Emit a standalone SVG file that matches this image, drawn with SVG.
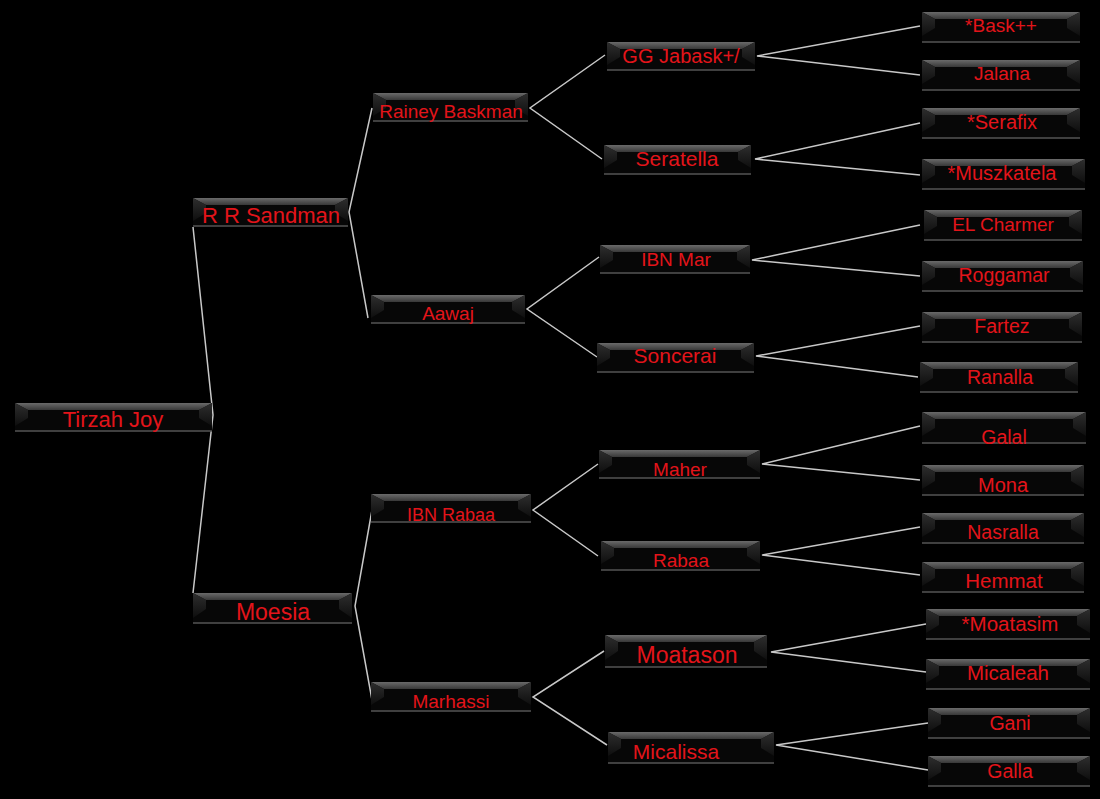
<svg xmlns="http://www.w3.org/2000/svg" width="1100" height="799" viewBox="0 0 1100 799">
<defs>
<linearGradient id="gt" x1="0" y1="0" x2="0" y2="1"><stop offset="0" stop-color="#6a6a6a"/><stop offset="1" stop-color="#383838"/></linearGradient>
<linearGradient id="gs" x1="0" y1="0" x2="0" y2="1"><stop offset="0" stop-color="#2e2e2e"/><stop offset="1" stop-color="#0e0e0e"/></linearGradient>
<style>
.body{fill:#070707}
.top{fill:url(#gt)}
.side{fill:url(#gs)}
.base{stroke:#555;stroke-width:1.5}
.lbl{font-family:"Liberation Sans",Arial,sans-serif;fill:#e3141a;text-anchor:middle}
.con{fill:none;stroke:#c8c8c8;stroke-width:1.5}
</style>
</defs>
<rect width="1100" height="799" fill="#000"/>
<g id="connectors">
<path class="con" d="M193,227 L213,415 L193,593"/>
<path class="con" d="M372,108 L349,212 L368,318"/>
<path class="con" d="M372,510 L355,606 L372,700"/>
<path class="con" d="M605,55 L530,108 L602,159"/>
<path class="con" d="M599,257 L527,309 L597,357"/>
<path class="con" d="M598,464 L533,510 L598,556"/>
<path class="con" d="M604,651 L533,697 L607,745"/>
<path class="con" d="M920,26 L757,56 L920,75"/>
<path class="con" d="M920,123 L755,159 L920,175"/>
<path class="con" d="M920,225 L752,260 L920,276"/>
<path class="con" d="M920,326 L756,356 L918,377"/>
<path class="con" d="M920,426 L762,464 L920,480"/>
<path class="con" d="M920,527 L762,555 L920,575"/>
<path class="con" d="M926,624 L771,652 L926,672"/>
<path class="con" d="M928,723 L776,745 L928,770"/>
</g>
<g id="n-tirzah"><rect class="body" x="15" y="403" width="197" height="28"/><polygon class="top" points="15,403 212,403 199,410 28,410"/><polygon class="side" points="15,403 28,410 28,418 15,426"/><polygon class="side" points="212,403 199,410 199,418 212,426"/><line class="base" x1="15" y1="431" x2="212" y2="431"/><text class="lbl" x="113" y="427" font-size="22">Tirzah Joy</text></g>
<g id="n-rrsandman"><rect class="body" x="193" y="198" width="155" height="28"/><polygon class="top" points="193,198 348,198 335,205 206,205"/><polygon class="side" points="193,198 206,205 206,213 193,221"/><polygon class="side" points="348,198 335,205 335,213 348,221"/><line class="base" x1="193" y1="226" x2="348" y2="226"/><text class="lbl" x="271" y="223" font-size="22">R R Sandman</text></g>
<g id="n-moesia"><rect class="body" x="193" y="593" width="159" height="30"/><polygon class="top" points="193,593 352,593 339,600 206,600"/><polygon class="side" points="193,593 206,600 206,609 193,618"/><polygon class="side" points="352,593 339,600 339,609 352,618"/><line class="base" x1="193" y1="623" x2="352" y2="623"/><text class="lbl" x="273" y="620" font-size="23">Moesia</text></g>
<g id="n-rainey"><rect class="body" x="373" y="93" width="155" height="28"/><polygon class="top" points="373,93 528,93 515,100 386,100"/><polygon class="side" points="373,93 386,100 386,108 373,116"/><polygon class="side" points="528,93 515,100 515,108 528,116"/><line class="base" x1="373" y1="121" x2="528" y2="121"/><text class="lbl" x="451" y="118" font-size="19">Rainey Baskman</text></g>
<g id="n-aawaj"><rect class="body" x="371" y="295" width="154" height="28"/><polygon class="top" points="371,295 525,295 512,302 384,302"/><polygon class="side" points="371,295 384,302 384,310 371,318"/><polygon class="side" points="525,295 512,302 512,310 525,318"/><line class="base" x1="371" y1="323" x2="525" y2="323"/><text class="lbl" x="448" y="320" font-size="19">Aawaj</text></g>
<g id="n-ibnrabaa"><rect class="body" x="371" y="494" width="160" height="28"/><polygon class="top" points="371,494 531,494 518,501 384,501"/><polygon class="side" points="371,494 384,501 384,509 371,517"/><polygon class="side" points="531,494 518,501 518,509 531,517"/><line class="base" x1="371" y1="522" x2="531" y2="522"/><text class="lbl" x="451" y="521" font-size="18">IBN Rabaa</text></g>
<g id="n-marhassi"><rect class="body" x="371" y="682" width="160" height="29"/><polygon class="top" points="371,682 531,682 518,689 384,689"/><polygon class="side" points="371,682 384,689 384,697 371,705"/><polygon class="side" points="531,682 518,689 518,697 531,705"/><line class="base" x1="371" y1="711" x2="531" y2="711"/><text class="lbl" x="451" y="708" font-size="19">Marhassi</text></g>
<g id="n-ggjabask"><rect class="body" x="607" y="42" width="148" height="28"/><polygon class="top" points="607,42 755,42 742,49 620,49"/><polygon class="side" points="607,42 620,49 620,57 607,65"/><polygon class="side" points="755,42 742,49 742,57 755,65"/><line class="base" x1="607" y1="70" x2="755" y2="70"/><text class="lbl" x="681" y="63" font-size="20">GG Jabask+/</text></g>
<g id="n-seratella"><rect class="body" x="604" y="145" width="147" height="29"/><polygon class="top" points="604,145 751,145 738,152 617,152"/><polygon class="side" points="604,145 617,152 617,160 604,168"/><polygon class="side" points="751,145 738,152 738,160 751,168"/><line class="base" x1="604" y1="174" x2="751" y2="174"/><text class="lbl" x="677" y="166" font-size="21">Seratella</text></g>
<g id="n-ibnmar"><rect class="body" x="600" y="245" width="150" height="28"/><polygon class="top" points="600,245 750,245 737,252 613,252"/><polygon class="side" points="600,245 613,252 613,260 600,268"/><polygon class="side" points="750,245 737,252 737,260 750,268"/><line class="base" x1="600" y1="273" x2="750" y2="273"/><text class="lbl" x="676" y="266" font-size="19">IBN Mar</text></g>
<g id="n-soncerai"><rect class="body" x="597" y="343" width="157" height="29"/><polygon class="top" points="597,343 754,343 741,350 610,350"/><polygon class="side" points="597,343 610,350 610,358 597,366"/><polygon class="side" points="754,343 741,350 741,358 754,366"/><line class="base" x1="597" y1="372" x2="754" y2="372"/><text class="lbl" x="675" y="363" font-size="21">Soncerai</text></g>
<g id="n-maher"><rect class="body" x="599" y="450" width="161" height="28"/><polygon class="top" points="599,450 760,450 747,457 612,457"/><polygon class="side" points="599,450 612,457 612,465 599,473"/><polygon class="side" points="760,450 747,457 747,465 760,473"/><line class="base" x1="599" y1="478" x2="760" y2="478"/><text class="lbl" x="680" y="476" font-size="19">Maher</text></g>
<g id="n-rabaa"><rect class="body" x="601" y="541" width="159" height="29"/><polygon class="top" points="601,541 760,541 747,548 614,548"/><polygon class="side" points="601,541 614,548 614,556 601,564"/><polygon class="side" points="760,541 747,548 747,556 760,564"/><line class="base" x1="601" y1="570" x2="760" y2="570"/><text class="lbl" x="681" y="567" font-size="19">Rabaa</text></g>
<g id="n-moatason"><rect class="body" x="605" y="635" width="162" height="32"/><polygon class="top" points="605,635 767,635 754,642 618,642"/><polygon class="side" points="605,635 618,642 618,651 605,660"/><polygon class="side" points="767,635 754,642 754,651 767,660"/><line class="base" x1="605" y1="667" x2="767" y2="667"/><text class="lbl" x="687" y="663" font-size="23">Moatason</text></g>
<g id="n-micalissa"><rect class="body" x="608" y="732" width="166" height="31"/><polygon class="top" points="608,732 774,732 761,739 621,739"/><polygon class="side" points="608,732 621,739 621,748 608,756"/><polygon class="side" points="774,732 761,739 761,748 774,756"/><line class="base" x1="608" y1="763" x2="774" y2="763"/><text class="lbl" x="676" y="759" font-size="21">Micalissa</text></g>
<g id="n-bask"><rect class="body" x="922" y="12" width="158" height="30"/><polygon class="top" points="922,12 1080,12 1067,19 935,19"/><polygon class="side" points="922,12 935,19 935,28 922,36"/><polygon class="side" points="1080,12 1067,19 1067,28 1080,36"/><line class="base" x1="922" y1="42" x2="1080" y2="42"/><text class="lbl" x="1001" y="32" font-size="19">*Bask++</text></g>
<g id="n-jalana"><rect class="body" x="922" y="60" width="158" height="30"/><polygon class="top" points="922,60 1080,60 1067,67 935,67"/><polygon class="side" points="922,60 935,67 935,76 922,84"/><polygon class="side" points="1080,60 1067,67 1067,76 1080,84"/><line class="base" x1="922" y1="90" x2="1080" y2="90"/><text class="lbl" x="1002" y="80" font-size="19">Jalana</text></g>
<g id="n-serafix"><rect class="body" x="922" y="108" width="158" height="30"/><polygon class="top" points="922,108 1080,108 1067,115 935,115"/><polygon class="side" points="922,108 935,115 935,124 922,132"/><polygon class="side" points="1080,108 1067,115 1067,124 1080,132"/><line class="base" x1="922" y1="138" x2="1080" y2="138"/><text class="lbl" x="1002" y="129" font-size="20">*Serafix</text></g>
<g id="n-muszkatela"><rect class="body" x="922" y="159" width="163" height="30"/><polygon class="top" points="922,159 1085,159 1072,166 935,166"/><polygon class="side" points="922,159 935,166 935,175 922,183"/><polygon class="side" points="1085,159 1072,166 1072,175 1085,183"/><line class="base" x1="922" y1="189" x2="1085" y2="189"/><text class="lbl" x="1002" y="180" font-size="20">*Muszkatela</text></g>
<g id="n-elcharmer"><rect class="body" x="924" y="210" width="158" height="30"/><polygon class="top" points="924,210 1082,210 1069,217 937,217"/><polygon class="side" points="924,210 937,217 937,226 924,234"/><polygon class="side" points="1082,210 1069,217 1069,226 1082,234"/><line class="base" x1="924" y1="240" x2="1082" y2="240"/><text class="lbl" x="1003" y="231" font-size="19">EL Charmer</text></g>
<g id="n-roggamar"><rect class="body" x="922" y="261" width="161" height="30"/><polygon class="top" points="922,261 1083,261 1070,268 935,268"/><polygon class="side" points="922,261 935,268 935,277 922,285"/><polygon class="side" points="1083,261 1070,268 1070,277 1083,285"/><line class="base" x1="922" y1="291" x2="1083" y2="291"/><text class="lbl" x="1004" y="282" font-size="19.5">Roggamar</text></g>
<g id="n-fartez"><rect class="body" x="922" y="312" width="160" height="30"/><polygon class="top" points="922,312 1082,312 1069,319 935,319"/><polygon class="side" points="922,312 935,319 935,328 922,336"/><polygon class="side" points="1082,312 1069,319 1069,328 1082,336"/><line class="base" x1="922" y1="342" x2="1082" y2="342"/><text class="lbl" x="1002" y="333" font-size="19.5">Fartez</text></g>
<g id="n-ranalla"><rect class="body" x="920" y="362" width="158" height="30"/><polygon class="top" points="920,362 1078,362 1065,369 933,369"/><polygon class="side" points="920,362 933,369 933,378 920,386"/><polygon class="side" points="1078,362 1065,369 1065,378 1078,386"/><line class="base" x1="920" y1="392" x2="1078" y2="392"/><text class="lbl" x="1000" y="384" font-size="19.5">Ranalla</text></g>
<g id="n-galal"><rect class="body" x="922" y="412" width="164" height="31"/><polygon class="top" points="922,412 1086,412 1073,419 935,419"/><polygon class="side" points="922,412 935,419 935,428 922,436"/><polygon class="side" points="1086,412 1073,419 1073,428 1086,436"/><line class="base" x1="922" y1="443" x2="1086" y2="443"/><text class="lbl" x="1004" y="444" font-size="19.5">Galal</text></g>
<g id="n-mona"><rect class="body" x="922" y="465" width="162" height="30"/><polygon class="top" points="922,465 1084,465 1071,472 935,472"/><polygon class="side" points="922,465 935,472 935,481 922,489"/><polygon class="side" points="1084,465 1071,472 1071,481 1084,489"/><line class="base" x1="922" y1="495" x2="1084" y2="495"/><text class="lbl" x="1003" y="492" font-size="20">Mona</text></g>
<g id="n-nasralla"><rect class="body" x="922" y="513" width="162" height="30"/><polygon class="top" points="922,513 1084,513 1071,520 935,520"/><polygon class="side" points="922,513 935,520 935,529 922,537"/><polygon class="side" points="1084,513 1071,520 1071,529 1084,537"/><line class="base" x1="922" y1="543" x2="1084" y2="543"/><text class="lbl" x="1003" y="539" font-size="19.5">Nasralla</text></g>
<g id="n-hemmat"><rect class="body" x="922" y="562" width="162" height="30"/><polygon class="top" points="922,562 1084,562 1071,569 935,569"/><polygon class="side" points="922,562 935,569 935,578 922,586"/><polygon class="side" points="1084,562 1071,569 1071,578 1084,586"/><line class="base" x1="922" y1="592" x2="1084" y2="592"/><text class="lbl" x="1004" y="588" font-size="20.5">Hemmat</text></g>
<g id="n-moatasim"><rect class="body" x="926" y="609" width="164" height="30"/><polygon class="top" points="926,609 1090,609 1077,616 939,616"/><polygon class="side" points="926,609 939,616 939,625 926,633"/><polygon class="side" points="1090,609 1077,616 1077,625 1090,633"/><line class="base" x1="926" y1="639" x2="1090" y2="639"/><text class="lbl" x="1010" y="631" font-size="20.5">*Moatasim</text></g>
<g id="n-micaleah"><rect class="body" x="926" y="659" width="164" height="30"/><polygon class="top" points="926,659 1090,659 1077,666 939,666"/><polygon class="side" points="926,659 939,666 939,675 926,683"/><polygon class="side" points="1090,659 1077,666 1077,675 1090,683"/><line class="base" x1="926" y1="689" x2="1090" y2="689"/><text class="lbl" x="1008" y="680" font-size="20.5">Micaleah</text></g>
<g id="n-gani"><rect class="body" x="928" y="708" width="162" height="30"/><polygon class="top" points="928,708 1090,708 1077,715 941,715"/><polygon class="side" points="928,708 941,715 941,724 928,732"/><polygon class="side" points="1090,708 1077,715 1077,724 1090,732"/><line class="base" x1="928" y1="738" x2="1090" y2="738"/><text class="lbl" x="1010" y="730" font-size="19.5">Gani</text></g>
<g id="n-galla"><rect class="body" x="928" y="756" width="162" height="30"/><polygon class="top" points="928,756 1090,756 1077,763 941,763"/><polygon class="side" points="928,756 941,763 941,772 928,780"/><polygon class="side" points="1090,756 1077,763 1077,772 1090,780"/><line class="base" x1="928" y1="786" x2="1090" y2="786"/><text class="lbl" x="1010" y="778" font-size="19.5">Galla</text></g>
</svg>
